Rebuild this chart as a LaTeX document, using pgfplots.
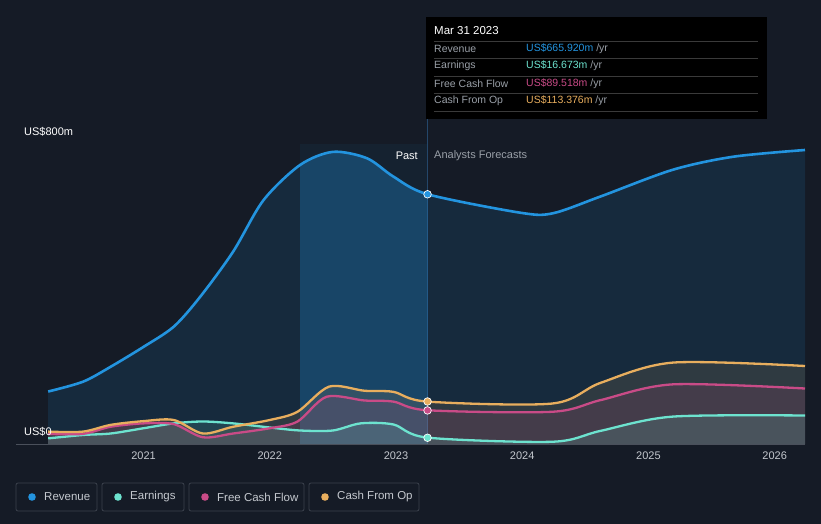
\documentclass[border=0pt]{standalone}
\usepackage{pgfplots}
\pgfplotsset{compat=1.18}
\usepgfplotslibrary{fillbetween}
\usepackage{pgfplotstable}
\usepackage{fontspec}
\setmainfont{Liberation Sans}
\definecolor{bg}{HTML}{151B26}
\definecolor{revc}{HTML}{2394DF}
\definecolor{earnc}{HTML}{6DE3CF}
\definecolor{fcfc}{HTML}{C94B87}
\definecolor{cfoc}{HTML}{E8AE5E}
\definecolor{gridc}{HTML}{2E3542}
\definecolor{zeroc}{HTML}{4A505B}
\definecolor{labc}{HTML}{C4C8CE}
\definecolor{grayc}{HTML}{9AA0A8}
\definecolor{legb}{HTML}{3C424D}
\definecolor{vlinec}{HTML}{24476A}
\definecolor{sepc}{HTML}{3A3A3A}

\pgfplotstableread{
x y
2020.245 140
2020.52 166
2020.74 206
2021.0 259
2021.24 313
2021.45 393
2021.71 513
2021.95 650
2022.24 744
2022.5 779
2022.77 762
2022.98 713
2023.25 666
2023.98 617
2024.24 615
2024.62 660
2025.19 731
2025.67 766
2026.24 784
}\rev

\pgfplotstableread{
x y
2020.245 33
2020.52 33
2020.74 51
2021.0 61
2021.24 64
2021.47 28
2021.71 46
2022.0 64
2022.22 86
2022.47 153
2022.75 142
2022.98 139
2023.25 113
2024.24 108
2024.62 163
2025.19 217
2026.24 208
}\cfo

\pgfplotstableread{
x y
2020.245 27
2020.52 27
2020.74 46
2021.0 55
2021.24 53
2021.47 18
2021.71 28
2022.0 42
2022.22 60
2022.45 126
2022.75 116
2022.98 113
2023.25 90
2024.24 86
2024.62 117
2025.19 159
2026.24 148
}\fcf

\pgfplotstableread{
x y
2020.245 15
2020.52 24
2020.74 28
2021.0 42
2021.24 55
2021.47 60
2021.71 55
2022.0 44
2022.24 36
2022.5 36
2022.72 55
2022.98 52
2023.25 17
2024.24 6
2024.62 35
2025.19 73
2026.24 76
}\earn

\begin{document}
\begin{tikzpicture}[x=1pt,y=1pt]
\fill[bg] (0,0) rectangle (821,524);
\begin{axis}[
  at={(16pt,80pt)}, anchor=south west, scale only axis,
  width=789pt, height=300pt,
  xmin=2019.99, xmax=2026.24, ymin=0, ymax=800,
  axis line style={draw=none},
  xtick={2021,2022,2023,2024,2025,2026},
  xticklabels={2021,2022,2023,2024,2025,2026},
  xtick pos=lower, tick align=outside, major tick length=4pt,
  x tick style={draw=zeroc, line width=0.8pt},
  x tick label style={font=\fontsize{11}{13}\selectfont, text=labc},
  ytick={0,200,400,600,800}, yticklabels={}, y tick style={draw=none},
  ymajorgrids, grid style={gridc, line width=0.8pt},
  clip=false,
]
\fill[revc, opacity=0.06] (axis cs:2022.24,0) rectangle (axis cs:2023.25,800);
\draw[vlinec, line width=0.8pt] (axis cs:2023.25,0) -- (axis cs:2023.25,867);

\addplot[draw=none, name path=zero, forget plot] coordinates {(2020.245,0) (2026.24,0)};
\addplot[name path=rev, smooth, draw=none, forget plot] table {\rev};
\addplot[name path=cfo, smooth, draw=none, forget plot] table {\cfo};
\addplot[name path=fcf, smooth, draw=none, forget plot] table {\fcf};
\addplot[name path=earn, smooth, draw=none, forget plot] table {\earn};

\addplot[fill=revc, fill opacity=0.13, forget plot] fill between[of=rev and zero, on layer=main];
\addplot[fill=revc, fill opacity=0.22, forget plot] fill between[of=rev and zero, soft clip={domain=2022.24:2023.25}, on layer=main];
\addplot[fill=cfoc, fill opacity=0.12, forget plot] fill between[of=cfo and zero, on layer=main];
\addplot[fill=fcfc, fill opacity=0.14, forget plot] fill between[of=fcf and zero, on layer=main];
\addplot[fill=earnc, fill opacity=0.14, forget plot] fill between[of=earn and zero, on layer=main];

\draw[zeroc, line width=0.8pt] (axis cs:2019.99,0) -- (axis cs:2026.24,0);

\addplot[smooth, draw=earnc, line width=2.3pt] table {\earn};
\addplot[smooth, draw=fcfc, line width=2.3pt] table {\fcf};
\addplot[smooth, draw=cfoc, line width=2.3pt] table {\cfo};
\addplot[smooth, draw=revc, line width=2.6pt] table {\rev};

\addplot[only marks, mark=*, mark size=3.8pt, mark options={fill=revc, draw=white, line width=0.7pt}] coordinates {(2023.25,665.92)};
\addplot[only marks, mark=*, mark size=3.8pt, mark options={fill=cfoc, draw=white, line width=0.7pt}] coordinates {(2023.25,113.376)};
\addplot[only marks, mark=*, mark size=3.8pt, mark options={fill=fcfc, draw=white, line width=0.7pt}] coordinates {(2023.25,89.518)};
\addplot[only marks, mark=*, mark size=3.8pt, mark options={fill=earnc, draw=white, line width=0.7pt}] coordinates {(2023.25,16.673)};
\end{axis}

% axis labels
\node[anchor=west, text=white, font=\fontsize{11}{13}\selectfont, inner sep=0] at (24,392) {US\$800m};
\node[anchor=west, text=white, font=\fontsize{11}{13}\selectfont, inner sep=0] at (24,92) {US\$0};
\node[anchor=east, text=white, font=\fontsize{11}{13}\selectfont, inner sep=0] at (418,368) {Past};
\node[anchor=west, text=grayc, font=\fontsize{11}{13}\selectfont, inner sep=0] at (434,368) {Analysts Forecasts};

% tooltip
\fill[black] (426,507) rectangle (767,405);
\node[anchor=west, text=white, font=\fontsize{11.5}{13}\selectfont, inner sep=0] at (434,493) {Mar 31 2023};
\foreach \yy in {483,466,448,431,413} {\draw[sepc, line width=0.7pt] (434,\yy) -- (758,\yy);}
\begin{scope}[every node/.style={anchor=west, inner sep=0, font=\fontsize{10.5}{12}\selectfont}]
\node[text=grayc] at (434,475) {Revenue};
\node[text=grayc] at (434,458) {Earnings};
\node[text=grayc] at (434,440) {Free Cash Flow};
\node[text=grayc] at (434,423) {Cash From Op};
\node at (526,475) {\textcolor{revc}{US\$665.920m} \textcolor{grayc}{/yr}};
\node at (526,458) {\textcolor{earnc}{US\$16.673m} \textcolor{grayc}{/yr}};
\node at (526,440) {\textcolor{fcfc}{US\$89.518m} \textcolor{grayc}{/yr}};
\node at (526,423) {\textcolor{cfoc}{US\$113.376m} \textcolor{grayc}{/yr}};
\end{scope}

% legend
\begin{scope}[every node/.style={anchor=west, inner sep=0, text=labc, font=\fontsize{11.5}{13}\selectfont}]
\draw[legb, rounded corners=2pt, line width=0.8pt] (16,41) rectangle (97,13);
\draw[legb, rounded corners=2pt, line width=0.8pt] (102,41) rectangle (184,13);
\draw[legb, rounded corners=2pt, line width=0.8pt] (189,41) rectangle (304,13);
\draw[legb, rounded corners=2pt, line width=0.8pt] (309,41) rectangle (419,13);
\fill[revc] (32,27) circle (3.8);
\fill[earnc] (118,27) circle (3.8);
\fill[fcfc] (205,27) circle (3.8);
\fill[cfoc] (325,27) circle (3.8);
\node at (44,27) {Revenue};
\node at (130,27) {Earnings};
\node at (217,27) {Free Cash Flow};
\node at (337,27) {Cash From Op};
\end{scope}
\end{tikzpicture}
\end{document}
